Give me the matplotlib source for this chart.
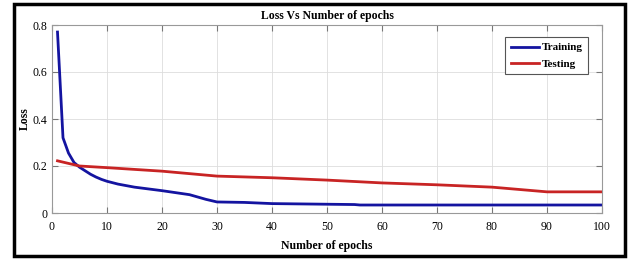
import matplotlib.pyplot as plt
from matplotlib.patches import Rectangle

epochs_train = [1, 2, 3, 4, 5, 6, 7, 8, 9, 10, 12, 15, 20, 25, 28, 30, 35, 40, 55, 56, 100]
loss_train = [0.77, 0.32, 0.255, 0.215, 0.195, 0.18, 0.165, 0.153, 0.143, 0.135, 0.123,
              0.11, 0.095, 0.078, 0.058, 0.047, 0.045, 0.04, 0.036, 0.034, 0.034]

epochs_test = [1, 5, 10, 20, 30, 40, 50, 60, 70, 80, 90, 100]
loss_test = [0.222, 0.2, 0.193, 0.178, 0.157, 0.15, 0.14, 0.128, 0.12, 0.11, 0.09, 0.09]

plt.rcParams['font.family'] = ['Liberation Serif', 'DejaVu Serif']

fig = plt.figure(figsize=(6.37, 2.62), dpi=100)
ax = fig.add_axes([52 / 637, 49 / 262, 550 / 637, 188 / 262])

ax.plot(epochs_train, loss_train, color='#1414a0', lw=2.0, label='Training')
ax.plot(epochs_test, loss_test, color='#c82424', lw=2.0, label='Testing')

ax.set_xlim(0, 100)
ax.set_ylim(0, 0.8)
ax.set_xticks(range(0, 101, 10))
ax.set_yticks([0, 0.2, 0.4, 0.6, 0.8])
ax.set_yticklabels(['0', '0.2', '0.4', '0.6', '0.8'])
ax.grid(True, color='#dddddd', lw=0.6)
for s in ax.spines.values():
    s.set_color('#999999')
    s.set_linewidth(0.8)
ax.tick_params(direction='in', length=4, color='#777777', labelsize=8.5,
               top=True, right=True)
ax.tick_params(axis='x', pad=6)

ax.set_title('Loss Vs Number of epochs', fontsize=8.5, fontweight='bold', pad=4)
ax.set_xlabel('Number of epochs', fontsize=8.5, fontweight='bold', labelpad=5)
ax.set_ylabel('Loss', fontsize=8.5, fontweight='bold', labelpad=1)

leg = ax.legend(loc='upper right', bbox_to_anchor=(0.985, 0.965),
                prop={'weight': 'bold', 'size': 8}, handlelength=2.6,
                handletextpad=0.2, borderpad=0.5, labelspacing=0.6,
                fancybox=False, framealpha=1)
leg.get_frame().set_edgecolor('#555555')
leg.get_frame().set_linewidth(0.8)

fig.patches.append(Rectangle((14 / 637, 6 / 262), 611 / 637, 252 / 262,
                             transform=fig.transFigure, fill=False,
                             edgecolor='black', lw=2.5))

fig.savefig('out.png', dpi=100)
